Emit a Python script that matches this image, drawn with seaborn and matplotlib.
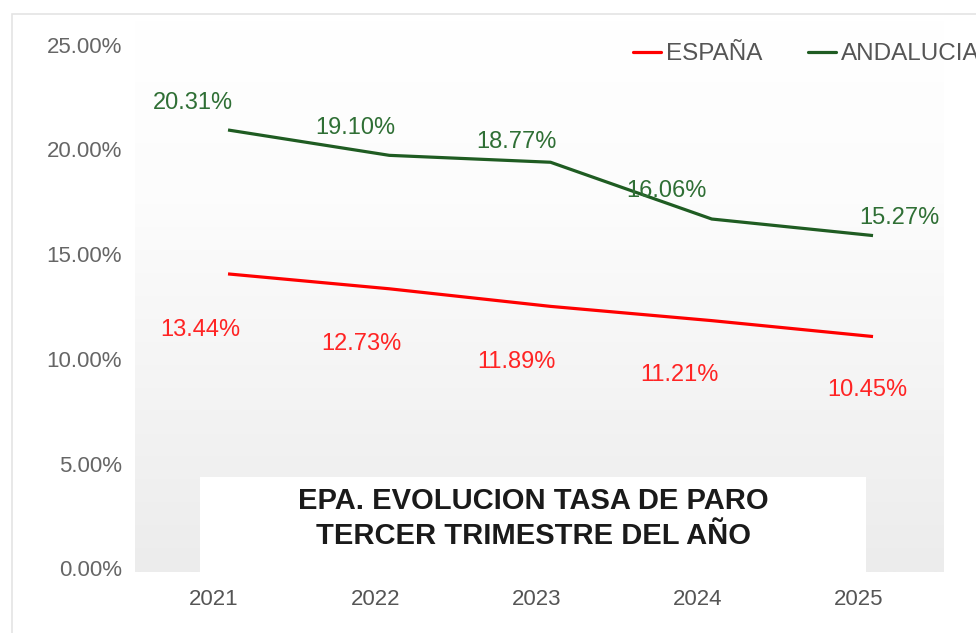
import numpy as np
import pandas as pd
import matplotlib
matplotlib.use('Agg')
import matplotlib.pyplot as plt
import seaborn as sns
from matplotlib import transforms
from matplotlib.colors import LinearSegmentedColormap
from matplotlib.font_manager import fontManager
from matplotlib.lines import Line2D
from matplotlib.patches import Rectangle


# datos EPA, tercer trimestre
years = ['2021', '2022', '2023', '2024', '2025']
espana = [13.44, 12.73, 11.89, 11.21, 10.45]
andalucia = [20.31, 19.10, 18.77, 16.06, 15.27]
series = ['ESPAÑA', 'ANDALUCIA']
yticks = [0, 5, 10, 15, 20, 25]
title = 'EPA. EVOLUCION TASA DE PARO\nTERCER TRIMESTRE DEL AÑO'

# offsets of the value labels (pixels, image direction)
esp_off = [(-28, 56), (-28, 55), (-34, 56), (-32, 54), (-6, 53)]
and_off = [(-35, -27), (-34, -27), (-34, -20), (-45, -28), (26, -18)]

df = pd.DataFrame({
    'year': years * 2,
    'tasa': espana + andalucia,
    'serie': [series[0]] * len(years) + [series[1]] * len(years),
})

sns.set_theme(style='white')
plt.rcParams['font.family'] = ['Liberation Sans', 'DejaVu Sans']

names = {f.name for f in fontManager.ttflist}
if 'Liberation Sans Narrow' in names:
    narrow = ['Liberation Sans Narrow', 'Liberation Sans']
    xtick_size, title_size = 19.5, 25
else:
    narrow = ['Liberation Sans', 'DejaVu Sans']
    xtick_size, title_size = 16, 21

red, green = '#ff0000', '#1f5c22'
palette = {series[0]: red, series[1]: green}

fig = plt.figure(figsize=(9.76, 6.33), dpi=100)
ax = fig.add_axes([0.1383, 0.0964, 0.8279, 0.872])

sns.lineplot(data=df, x='year', y='tasa', hue='serie', palette=palette,
             linewidth=2.3, legend=False, sort=False, ax=ax)
for ln in ax.get_lines():
    ln.set_solid_capstyle('butt')
    ln.set_zorder(4)

# gradient background
cmap = LinearSegmentedColormap.from_list('bg', ['#ffffff', '#fcfcfc', '#f4f4f4', '#ececec'])
grad = np.linspace(0, 1, 256).reshape(-1, 1)
ax.imshow(grad, extent=[0, 1, 0, 1], transform=ax.transAxes, aspect='auto',
          cmap=cmap, zorder=0)

ax.set_xlim(-0.577, 4.434)
ax.set_ylim(-0.788, 25.56)
ax.set_xlabel('')
ax.set_ylabel('')
for s in ax.spines.values():
    s.set_visible(False)

ax.set_yticks(yticks)
ax.set_yticklabels([f'{v:.2f}%' for v in yticks])
ax.set_xticks(range(len(years)))
ax.set_xticklabels(years)
ax.tick_params(axis='y', length=0, pad=9.5, labelsize=16, labelcolor='#666666')
ax.tick_params(axis='x', length=0, pad=12, labelsize=xtick_size, labelcolor='#555555')
for lab in ax.get_xticklabels():
    lab.set_fontfamily(narrow)
    lab.set_transform(lab.get_transform() +
                      transforms.ScaledTranslation(-14 / 100, 0, fig.dpi_scale_trans))
for lab in ax.get_yticklabels():
    lab.set_transform(lab.get_transform() +
                      transforms.ScaledTranslation(0, -13 / 100, fig.dpi_scale_trans))

# value labels
for i, v in enumerate(espana):
    dx, dy = esp_off[i]
    ax.annotate(f'{v:.2f}%', (i, v), xytext=(dx, -dy), textcoords='offset pixels',
                ha='center', va='center', fontsize=17, color='#ff2424', zorder=5)
for i, v in enumerate(andalucia):
    dx, dy = and_off[i]
    ax.annotate(f'{v:.2f}%', (i, v), xytext=(dx, -dy), textcoords='offset pixels',
                ha='center', va='center', fontsize=17, color='#2f6f35', zorder=5)

# title box
ax.add_patch(Rectangle((0.080, 0), 0.825, 0.172, transform=ax.transAxes,
                       facecolor='white', edgecolor='none', zorder=2))
ax.text(0.4926, 0.097, title, transform=ax.transAxes, ha='center', va='center',
        fontsize=title_size, fontweight='bold', color='#1a1a1a', family=narrow,
        linespacing=1.3, zorder=3)

# legend
handles = [Line2D([], [], color=palette[s], lw=2.3) for s in series]
ax.legend(handles, series, loc='center left', bbox_to_anchor=(633 / 976, 1 - 54 / 633),
          bbox_transform=fig.transFigure, ncol=2, frameon=False, fontsize=17.5,
          handlelength=1.15, handletextpad=0.2, columnspacing=1.9,
          borderpad=0, borderaxespad=0, labelcolor='#555555')

# outer frame
fig.patches.append(Rectangle((12 / 976, -0.1), 1.2, (633 - 14) / 633 + 0.1,
                             transform=fig.transFigure, fill=False,
                             edgecolor='#e4e4e4', lw=1.2))

plt.savefig('out.png', dpi=100)
